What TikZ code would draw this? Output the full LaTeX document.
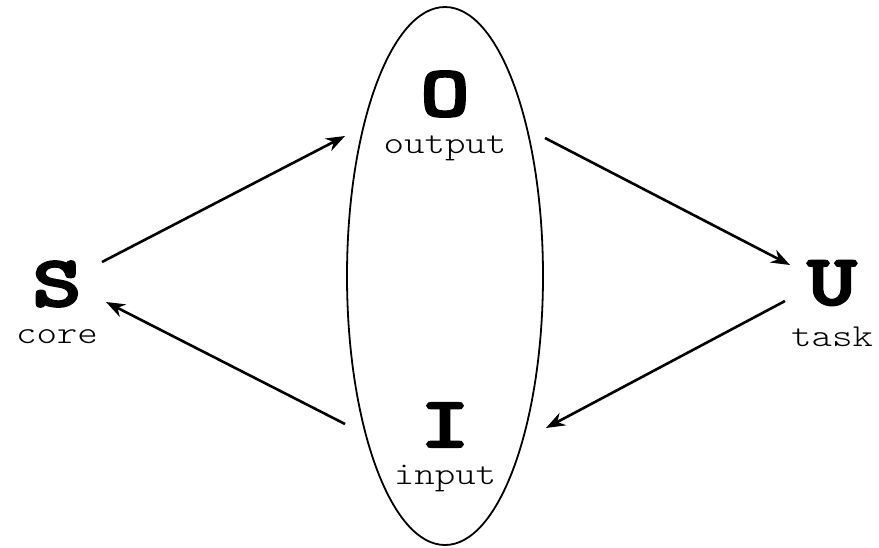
\documentclass[tikz,border=0pt]{standalone}
\usepackage{fontspec}
\newfontfamily\bigtt{lmmonolt10-bold.otf}[FakeBold=3]
\newfontfamily\smalltt{lmmonolt10-regular.otf}
\usetikzlibrary{arrows.meta,shapes.geometric}
\begin{document}
\begin{tikzpicture}[x=1pt,y=-1pt,
  big/.style={font=\bigtt\fontsize{72}{72}\selectfont, inner sep=0pt, xscale=1.3},
  small/.style={font=\smalltt\fontsize{32}{32}\selectfont, inner sep=0pt, xscale=1.22},
  arr/.style={line width=2.6pt, -{Stealth[length=19pt,width=14pt]}}]
\useasboundingbox (0,0) rectangle (879,547);
\node[draw, line width=1.8pt, ellipse, minimum width=196pt, minimum height=538pt, inner sep=0pt] (E) at (445,276) {};
\node[big] (S) at (57,284) {S};
\node[small] (core) at (57,337) {core};
\node[big] (O) at (445,94) {O};
\node[small] (out) at (445,148) {output};
\node[big] (U) at (832,283) {U};
\node[small] (task) at (832,337) {task};
\node[big] (I) at (445,425) {I};
\node[small] (inp) at (445,478) {input};
\coordinate (s1) at (102,262);
\coordinate (o1) at (345,136);
\coordinate (o2) at (545,138);
\coordinate (u1) at (790,265);
\coordinate (u2) at (785,301);
\coordinate (i1) at (546,428);
\coordinate (i2) at (345,424);
\coordinate (s2) at (106,302);
\draw[arr] (s1) -- (o1);
\draw[arr] (o2) -- (u1);
\draw[arr] (u2) -- (i1);
\draw[arr] (i2) -- (s2);
\end{tikzpicture}
\end{document}
